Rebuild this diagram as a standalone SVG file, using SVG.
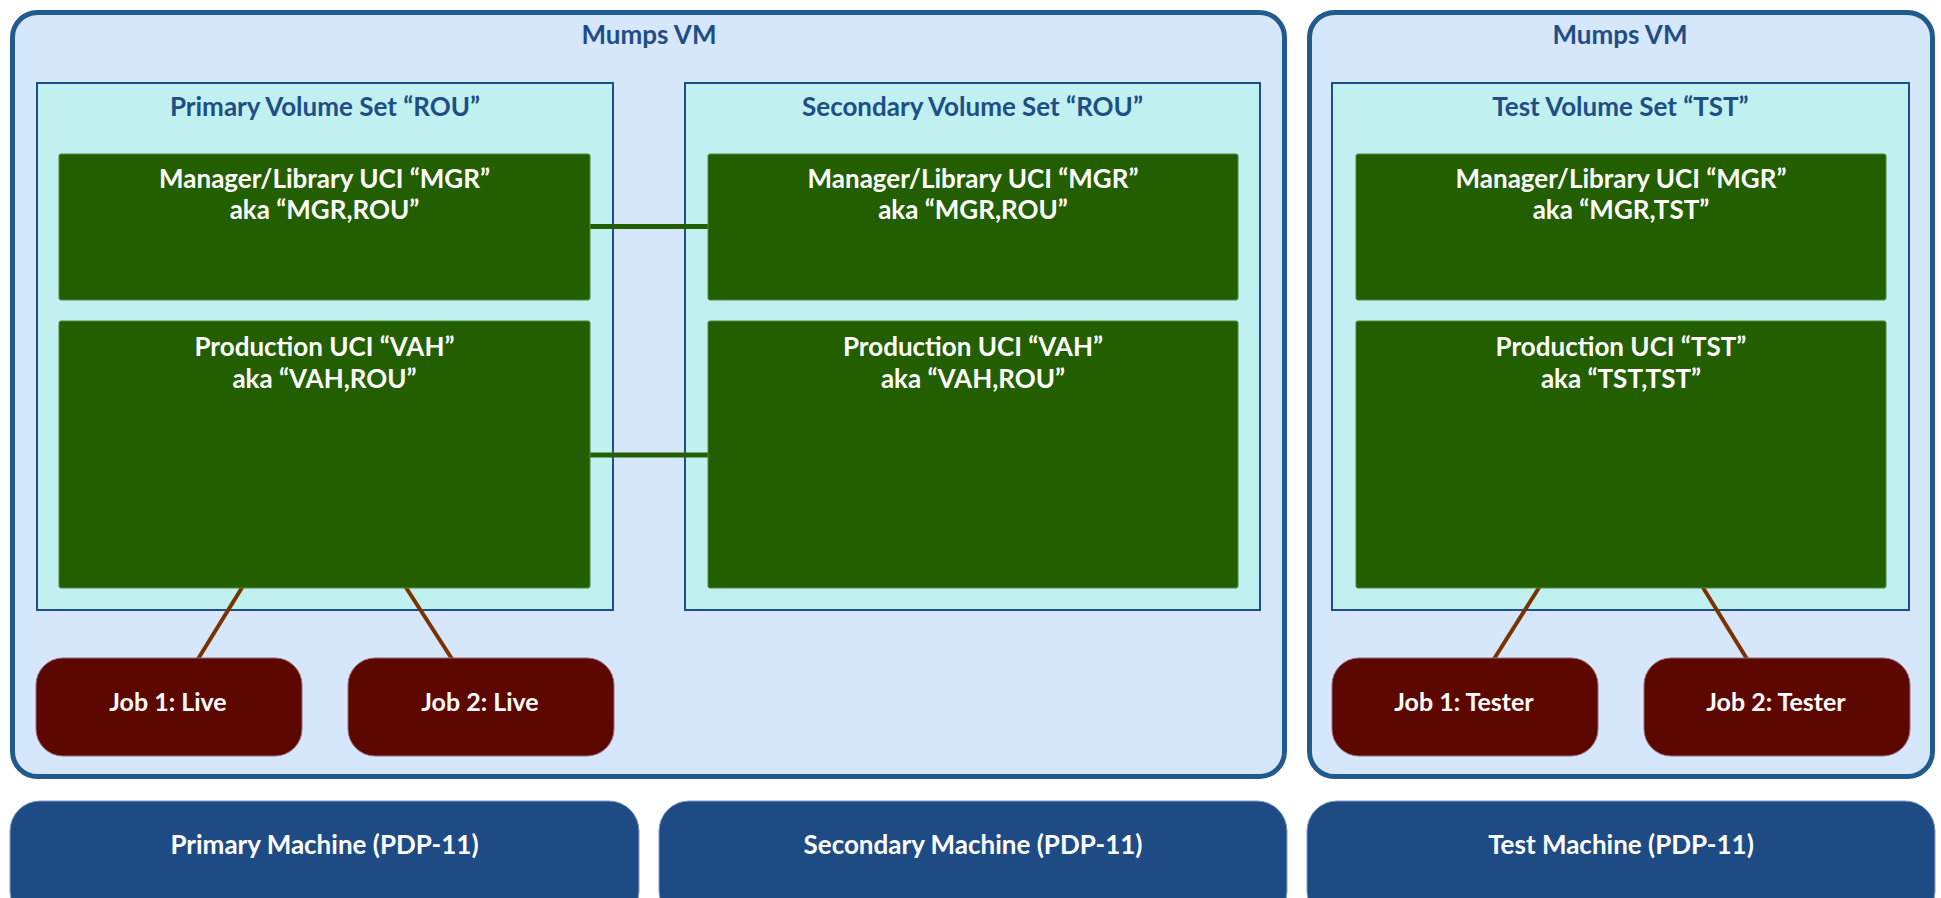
<svg xmlns="http://www.w3.org/2000/svg" width="1941" height="898" viewBox="0 0 1941 898">
<style>
.vm{fill:#D6E6FB;stroke:#215A8C;stroke-width:5}
.vs{fill:#C1F0F0;stroke:#1F4E8C;stroke-width:2}
.uci{fill:#235E00;stroke:#4E8A3A;stroke-width:1}
.job{fill:#5C0800;stroke:#9A6A78;stroke-width:1}
.mach{fill:#1F4B85;stroke:#7C9CCC;stroke-width:1}
text{font-family:Lato,"Open Sans","Liberation Sans",sans-serif;font-weight:bold;text-anchor:middle}
.t{fill:#1F4E86;font-size:26px}
.w{fill:#FFFFFF;font-size:26px}
.j{fill:#FFFFFF;font-size:25px}
.g{stroke:#235E00;stroke-width:5;fill:none}
.b{stroke:#7A3300;stroke-width:4;stroke-linecap:round;fill:none}
</style>
<g id="machine-primary"><rect class="mach" x="10" y="801" width="629" height="120" rx="30"/><text class="w" x="324.5" y="854">Primary Machine (PDP-11)</text></g>
<g id="machine-secondary"><rect class="mach" x="659" y="801" width="628" height="120" rx="30"/><text class="w" x="973" y="854">Secondary Machine (PDP-11)</text></g>
<g id="machine-test"><rect class="mach" x="1307" y="801" width="628" height="120" rx="30"/><text class="w" x="1621" y="854">Test Machine (PDP-11)</text></g>
<g id="vm-left"><rect class="vm" x="12.5" y="12.5" width="1272" height="764" rx="25"/><text class="t" x="649" y="44">Mumps VM</text></g>
<g id="vm-right"><rect class="vm" x="1309.5" y="12.5" width="623" height="764" rx="25"/><text class="t" x="1620" y="44">Mumps VM</text></g>
<g id="vs-primary"><rect class="vs" x="37" y="83" width="576" height="527"/><text class="t" x="325" y="116">Primary Volume Set “ROU”</text></g>
<g id="vs-secondary"><rect class="vs" x="685" y="83" width="575" height="527"/><text class="t" x="972.5" y="116">Secondary Volume Set “ROU”</text></g>
<g id="vs-test"><rect class="vs" x="1332" y="83" width="577" height="527"/><text class="t" x="1620.5" y="116">Test Volume Set “TST”</text></g>
<g id="connectors">
<line class="g" x1="590" y1="226.5" x2="708" y2="226.5"/>
<line class="g" x1="590" y1="455" x2="708" y2="455"/>
<line class="b" x1="243" y1="586" x2="198" y2="659"/>
<line class="b" x1="405" y1="586" x2="452" y2="659"/>
<line class="b" x1="1540" y1="586" x2="1494" y2="659"/>
<line class="b" x1="1702" y1="586" x2="1747" y2="659"/>
</g>
<g id="uci-mgr-primary"><rect class="uci" x="59" y="154" width="531" height="146" rx="2"/><text class="w" x="324.5" y="188">Manager/Library UCI “MGR”</text><text class="w" x="324.5" y="219">aka “MGR,ROU”</text></g>
<g id="uci-vah-primary"><rect class="uci" x="59" y="321" width="531" height="267" rx="2"/><text class="w" x="324.5" y="356">Production UCI “VAH”</text><text class="w" x="324.5" y="388">aka “VAH,ROU”</text></g>
<g id="uci-mgr-secondary"><rect class="uci" x="708" y="154" width="530" height="146" rx="2"/><text class="w" x="973" y="188">Manager/Library UCI “MGR”</text><text class="w" x="973" y="219">aka “MGR,ROU”</text></g>
<g id="uci-vah-secondary"><rect class="uci" x="708" y="321" width="530" height="267" rx="2"/><text class="w" x="973" y="356">Production UCI “VAH”</text><text class="w" x="973" y="388">aka “VAH,ROU”</text></g>
<g id="uci-mgr-test"><rect class="uci" x="1356" y="154" width="530" height="146" rx="2"/><text class="w" x="1621" y="188">Manager/Library UCI “MGR”</text><text class="w" x="1621" y="219">aka “MGR,TST”</text></g>
<g id="uci-tst-test"><rect class="uci" x="1356" y="321" width="530" height="267" rx="2"/><text class="w" x="1621" y="356">Production UCI “TST”</text><text class="w" x="1621" y="388">aka “TST,TST”</text></g>
<g id="job1-live"><rect class="job" x="36" y="658" width="266" height="98" rx="27"/><text class="j" x="168" y="711">Job 1: Live</text></g>
<g id="job2-live"><rect class="job" x="348" y="658" width="266" height="98" rx="27"/><text class="j" x="480" y="711">Job 2: Live</text></g>
<g id="job1-tester"><rect class="job" x="1332" y="658" width="266" height="98" rx="27"/><text class="j" x="1464" y="711">Job 1: Tester</text></g>
<g id="job2-tester"><rect class="job" x="1644" y="658" width="266" height="98" rx="27"/><text class="j" x="1776" y="711">Job 2: Tester</text></g>
</svg>
